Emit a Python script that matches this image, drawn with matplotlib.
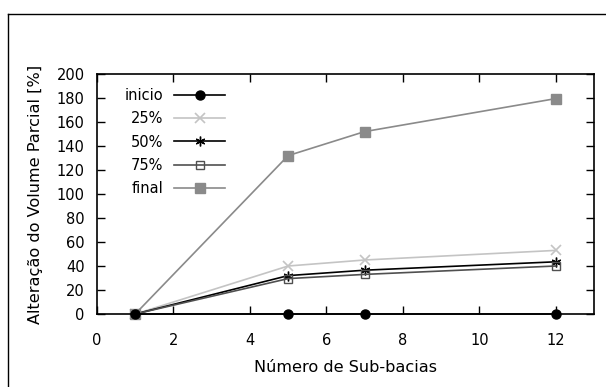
#!/usr/bin/env python3

import matplotlib
matplotlib.use("Agg")
import matplotlib.pyplot as plt
from matplotlib.lines import Line2D

# Data
sub_bacias = [1, 5, 7, 12]
inicio = [0, 0, 0, 0]
p25 = [0, 40, 45, 53]
p50 = [0, 32, 36.5, 43.5]
p75 = [0, 29.5, 33, 40]
final = [0, 132, 152, 179.5]

x_ticks = [0, 2, 4, 6, 8, 10, 12]
y_ticks = list(range(0, 201, 20))

plt.rcParams["font.family"] = ["DejaVu Sans"]
plt.rcParams["font.size"] = 10.5

fig = plt.figure(figsize=(6.06, 3.87), dpi=100)
ax = fig.add_axes([97 / 606, 1 - 314 / 387, (594 - 97) / 606, (314 - 74) / 387])

lw = 1.2
ax.plot(sub_bacias, inicio, color="black", lw=lw, marker="o", ms=6.5, label="inicio", clip_on=False, zorder=5)
ax.plot(sub_bacias, p25, color="#c4c4c4", lw=lw, marker="x", ms=6.5, mew=1.2, label="25%", clip_on=False)
ax.plot(sub_bacias, p50, color="black", lw=lw, marker=(6, 2, 0), ms=7, mew=1.0, label="50%", clip_on=False)
ax.plot(sub_bacias, p75, color="#505050", lw=lw, marker="s", ms=6, mfc="none", mew=1.0, label="75%", clip_on=False)
ax.plot(sub_bacias, final, color="#8a8a8a", lw=lw, marker="s", ms=6.5, label="final", clip_on=False)

ax.set_xlim(0, 13)
ax.set_ylim(0, 200)
ax.set_xticks(x_ticks)
ax.set_yticks(y_ticks)
ax.tick_params(direction="in", length=6, width=1, top=True, right=True)
ax.tick_params(axis="x", pad=14)
ax.tick_params(axis="y", pad=9)
for s in ax.spines.values():
    s.set_linewidth(1.2)

ax.set_xlabel("Número de Sub-bacias", fontsize=11.6)
ax.set_ylabel("Alteração do Volume Parcial [%]", fontsize=11.6)
ax.xaxis.set_label_coords(0.5, -0.19)
ax.yaxis.set_label_coords(-0.109, 0.5)

leg = ax.legend(loc="upper left", bbox_to_anchor=(0.056, 0.942), markerfirst=False, frameon=False,
                alignment="right", handlelength=3.5, labelspacing=0.57, handletextpad=0.75,
                borderaxespad=0, borderpad=0)

# outer frame (only left and top edges visible)
x0 = 8 / 606
y0 = 1 - 14 / 387
fig.add_artist(Line2D([x0, x0], [0, y0], transform=fig.transFigure, color="black", lw=1))
fig.add_artist(Line2D([x0, 1], [y0, y0], transform=fig.transFigure, color="black", lw=1))

fig.savefig("out.png", dpi=100)
